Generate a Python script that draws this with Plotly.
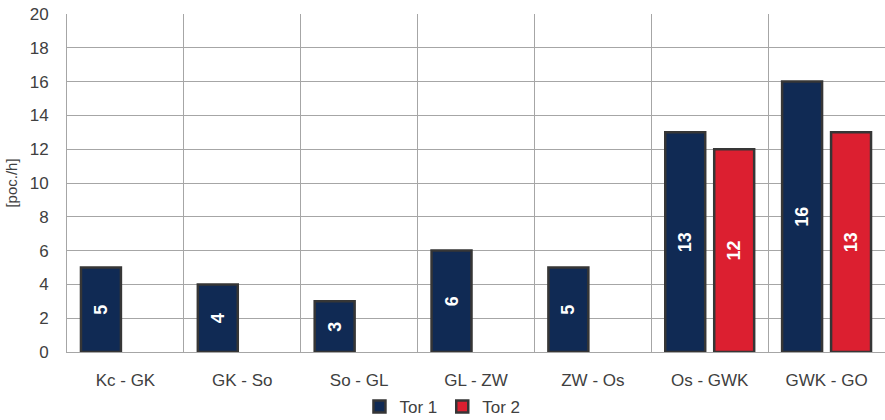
import plotly.graph_objects as go

# Route sections and hourly counts for each track
sections = ["Kc - GK", "GK - So", "So - GL", "GL - ZW", "ZW - Os", "Os - GWK", "GWK - GO"]
tor1 = [5, 4, 3, 6, 5, 13, 16]
tor2 = [None, None, None, None, None, 12, 13]
y_ticks = list(range(0, 21, 2))

NAVY = "#102a54"
RED = "#dc1f30"
EDGE = "#363636"
GRID = "#a6a6a6"
TEXT = "#404040"
FONT = "Liberation Sans, Arial, sans-serif"


def labels(vals):
    return [("" if v is None else str(v)) for v in vals]


fig = go.Figure()
for name, vals, color in [("Tor 1", tor1, NAVY), ("Tor 2", tor2, RED)]:
    fig.add_trace(go.Bar(
        name=name,
        x=sections,
        y=vals,
        marker=dict(color=color, line=dict(color=EDGE, width=2.5)),
        text=labels(vals),
        textposition="inside",
        insidetextanchor="middle",
        textangle=-90,
        textfont=dict(family=FONT, size=18, color="white", weight="bold"),
        cliponaxis=False,
    ))

fig.update_layout(
    width=885,
    height=420,
    margin=dict(l=67, r=0, t=14, b=68, autoexpand=False),
    paper_bgcolor="white",
    plot_bgcolor="white",
    barmode="group",
    bargap=0.162,
    bargroupgap=0.184,
    font=dict(family=FONT, size=17, color=TEXT),
    showlegend=True,
    legend=dict(
        orientation="h",
        x=0.459,
        xanchor="center",
        yref="container",
        y=0.074,
        yanchor="top",
        bgcolor="rgba(0,0,0,0)",
        font=dict(size=17, color=TEXT),
        itemwidth=30,
        tracegroupgap=0,
    ),
    xaxis=dict(
        type="category",
        tickson="boundaries",
        showgrid=True,
        gridcolor=GRID,
        gridwidth=1,
        showline=True,
        linecolor=GRID,
        linewidth=1,
        ticks="",
        tickangle=0,
        ticklabelstandoff=13,
        tickfont=dict(size=17, color=TEXT),
    ),
    yaxis=dict(
        range=[0, 20],
        tickvals=y_ticks,
        showgrid=True,
        gridcolor=GRID,
        gridwidth=1,
        showline=True,
        linecolor=GRID,
        linewidth=1,
        zeroline=False,
        ticks="",
        ticklabelstandoff=14,
        tickfont=dict(size=17, color=TEXT),
        title=dict(text="[poc./h]", font=dict(size=15, color=TEXT), standoff=8),
    ),
)

fig.write_html("out.html")
